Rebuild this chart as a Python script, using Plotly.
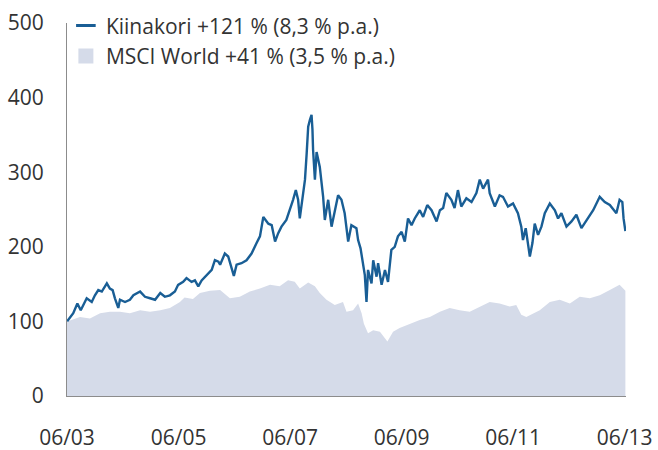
import plotly.graph_objects as go

# ---- data ----
kiina_dates = [
    "2003-06-02", "2003-07-12", "2003-08-08", "2003-08-30", "2003-10-08", "2003-11-10",
    "2003-12-01", "2003-12-23", "2004-01-15", "2004-02-17", "2004-03-08", "2004-03-26",
    "2004-04-10", "2004-05-02", "2004-05-13", "2004-06-15", "2004-07-17", "2004-08-09",
    "2004-09-22", "2004-10-24", "2004-11-26", "2004-12-29", "2005-02-01", "2005-03-03",
    "2005-04-05", "2005-05-08", "2005-05-29", "2005-07-01", "2005-07-23", "2005-08-25",
    "2005-09-16", "2005-10-08", "2005-10-30", "2005-12-02", "2006-01-04", "2006-01-25",
    "2006-02-17", "2006-02-28", "2006-03-31", "2006-04-22", "2006-05-14", "2006-05-29",
    "2006-06-16", "2006-07-18", "2006-08-20", "2006-09-22", "2006-10-25", "2006-11-16",
    "2006-12-08", "2007-01-10", "2007-02-01", "2007-02-23", "2007-03-15", "2007-04-06",
    "2007-05-08", "2007-05-30", "2007-06-21", "2007-07-09", "2007-07-24", "2007-08-04",
    "2007-09-07", "2007-09-18", "2007-09-28", "2007-10-09", "2007-10-20", "2007-10-26",
    "2007-10-30", "2007-11-11", "2007-11-22", "2007-12-13", "2007-12-24", "2008-01-04",
    "2008-01-15", "2008-02-06", "2008-02-28", "2008-03-20", "2008-04-11", "2008-05-03",
    "2008-05-24", "2008-06-16", "2008-07-07", "2008-08-09", "2008-08-20", "2008-09-05",
    "2008-09-18", "2008-10-03", "2008-10-14", "2008-10-24", "2008-11-16", "2008-11-27",
    "2008-12-19", "2008-12-29", "2009-01-21", "2009-02-12", "2009-03-04", "2009-03-26",
    "2009-04-17", "2009-05-08", "2009-06-01", "2009-06-22", "2009-07-13", "2009-08-05",
    "2009-08-26", "2009-09-28", "2009-10-20", "2009-11-16", "2009-12-14", "2010-01-16",
    "2010-02-07", "2010-02-28", "2010-03-21", "2010-04-23", "2010-05-14", "2010-06-05",
    "2010-06-27", "2010-07-30", "2010-09-02", "2010-10-04", "2010-10-26", "2010-11-17",
    "2010-12-19", "2010-12-30", "2011-02-02", "2011-03-05", "2011-03-27", "2011-04-29",
    "2011-06-01", "2011-07-03", "2011-07-25", "2011-08-05", "2011-08-23", "2011-09-08",
    "2011-09-19", "2011-10-06", "2011-10-21", "2011-11-12", "2011-12-04", "2011-12-26",
    "2012-01-28", "2012-03-01", "2012-03-22", "2012-04-13", "2012-05-16", "2012-06-18",
    "2012-07-20", "2012-08-22", "2012-09-25", "2012-11-07", "2012-12-20", "2013-01-22",
    "2013-02-24", "2013-04-08", "2013-04-29", "2013-05-17", "2013-05-25", "2013-06-06",
]
kiina_values = [
    100, 111, 124, 115, 131, 126,
    135, 142, 140, 151, 144, 142,
    131, 118, 129, 126, 129, 135,
    140, 133, 131, 129, 138, 133,
    135, 140, 149, 153, 158, 153,
    155, 147, 155, 162, 169, 182,
    180, 176, 191, 187, 173, 161,
    176, 178, 182, 191, 205, 214,
    240, 231, 229, 207, 218, 227,
    236, 249, 263, 276, 263, 238,
    290, 325, 361, 370, 377, 357,
    330, 290, 327, 307, 290, 267,
    236, 263, 227, 249, 269, 263,
    245, 207, 229, 225, 209, 198,
    182, 162, 126, 169, 151, 182,
    160, 178, 149, 169, 153, 196,
    200, 214, 220, 207, 238, 229,
    238, 249, 240, 256, 249, 234,
    249, 252, 272, 263, 252, 276,
    254, 265, 260, 272, 290, 278,
    290, 272, 254, 269, 267, 254,
    258, 245, 227, 209, 225, 205,
    187, 205, 231, 216, 227, 245,
    258, 249, 238, 245, 227, 234,
    243, 225, 236, 249, 267, 260,
    256, 245, 263, 260, 238, 221,
]

msci_dates = [
    "2003-06-01", "2003-08-25", "2003-10-29", "2004-01-04", "2004-03-08", "2004-05-13",
    "2004-07-17", "2004-09-22", "2004-11-26", "2005-02-01", "2005-04-05", "2005-05-08",
    "2005-06-10", "2005-07-10", "2005-09-03", "2005-10-19", "2005-12-23", "2006-02-28",
    "2006-05-03", "2006-07-07", "2006-09-11", "2006-11-16", "2007-01-21", "2007-03-25",
    "2007-05-19", "2007-07-02", "2007-08-04", "2007-09-28", "2007-11-11", "2007-12-13",
    "2008-01-26", "2008-03-20", "2008-05-13", "2008-06-05", "2008-07-18", "2008-08-20",
    "2008-09-12", "2008-09-27", "2008-10-24", "2008-11-27", "2009-01-10", "2009-02-28",
    "2009-04-06", "2009-05-19", "2009-07-24", "2009-09-28", "2009-12-03", "2010-02-07",
    "2010-04-12", "2010-06-16", "2010-08-21", "2010-10-26", "2010-12-30", "2011-03-05",
    "2011-05-10", "2011-06-22", "2011-07-25", "2011-08-27", "2011-10-10", "2011-11-23",
    "2012-01-28", "2012-04-02", "2012-06-07", "2012-08-11", "2012-10-16", "2012-12-20",
    "2013-02-24", "2013-04-29", "2013-06-06",
]
msci_values = [
    100, 106, 104, 111, 113, 113,
    111, 115, 113, 115, 118, 122,
    126, 132, 130, 138, 141, 142,
    131, 133, 140, 144, 149, 147,
    155, 153, 144, 152, 147, 138,
    129, 122, 126, 113, 115, 124,
    111, 97, 84, 88, 86, 73,
    86, 91, 97, 102, 106, 113,
    118, 115, 113, 120, 126, 124,
    120, 122, 109, 106, 111, 115,
    126, 129, 124, 133, 131, 135,
    142, 149, 141,
]

series_names = ["Kiinakori +121 % (8,3 % p.a.)", "MSCI World +41 % (3,5 % p.a.)"]
x_tick_dates = ["2003-06-01", "2005-06-01", "2007-06-01", "2009-06-01", "2011-06-01", "2013-06-01"]
x_tick_labels = ["06/03", "06/05", "06/07", "06/09", "06/11", "06/13"]
y_ticks = [0, 100, 200, 300, 400, 500]

LINE_COLOR = "#195e95"
FILL_COLOR = "#d5dbe9"
TEXT_COLOR = "#333333"
AXIS_COLOR = "#8c8c8c"
FONT = "'Open Sans', Lato, sans-serif"

fig = go.Figure()

fig.add_trace(go.Scatter(
    x=msci_dates, y=msci_values, mode="lines",
    line=dict(width=0, color=FILL_COLOR), fill="tozeroy", fillcolor=FILL_COLOR,
    showlegend=False, hoverinfo="skip",
))
fig.add_trace(go.Scatter(
    x=kiina_dates, y=kiina_values, mode="lines",
    line=dict(width=2.4, color=LINE_COLOR),
    showlegend=False, hoverinfo="skip",
))
# legend-only entries
fig.add_trace(go.Scatter(
    x=[None], y=[None], mode="markers", name=series_names[0],
    marker=dict(symbol="line-ew-open", size=14, color=LINE_COLOR,
                line=dict(width=3, color=LINE_COLOR)),
))
fig.add_trace(go.Scatter(
    x=[None], y=[None], mode="markers", name=series_names[1],
    marker=dict(symbol="square", size=15, color=FILL_COLOR, line=dict(width=0)),
))

fig.update_layout(
    width=658, height=450,
    margin=dict(l=67, r=32, t=23, b=54, autoexpand=False),
    paper_bgcolor="white", plot_bgcolor="white",
    font=dict(family=FONT, size=21, color=TEXT_COLOR),
    legend=dict(
        x=-0.002, xanchor="left", y=1.047, yanchor="top",
        bgcolor="rgba(0,0,0,0)", borderwidth=0,
        font=dict(family=FONT, size=21, color=TEXT_COLOR),
        itemsizing="trace", tracegroupgap=0,
    ),
    xaxis=dict(
        type="date", range=["2003-06-01", "2013-06-10"],
        tickvals=x_tick_dates, ticktext=x_tick_labels,
        showgrid=False, zeroline=False, automargin=False,
        showline=True, linecolor=AXIS_COLOR, linewidth=1,
        ticks="", ticklabelstandoff=23,
    ),
    yaxis=dict(
        range=[0, 500], tickvals=y_ticks,
        showgrid=False, zeroline=False, automargin=False,
        showline=True, linecolor=AXIS_COLOR, linewidth=1,
        ticks="", ticklabelstandoff=18,
    ),
)

fig.write_html("out.html", config={"displayModeBar": False},
               post_script="document.body.style.margin='0';")
